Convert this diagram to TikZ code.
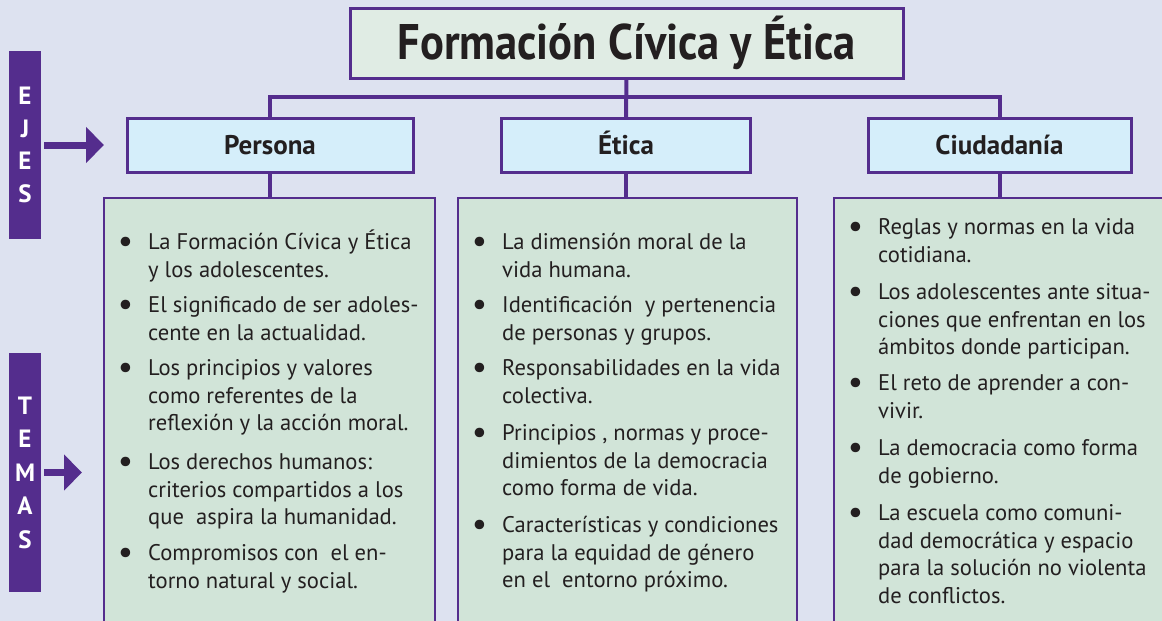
\documentclass[tikz,border=0pt]{standalone}
\usepackage{fontspec}
\setmainfont{PT Sans}
\newfontfamily\condfont[FakeStretch=0.89]{PT Sans}
\usetikzlibrary{arrows.meta}

\definecolor{morado}{RGB}{84,45,141}
\definecolor{fondo}{RGB}{221,226,240}
\definecolor{verdetitulo}{RGB}{224,236,228}
\definecolor{azuleje}{RGB}{213,238,250}
\definecolor{verdetema}{RGB}{209,228,216}
\definecolor{tinta}{RGB}{35,31,32}

\begin{document}
\begin{tikzpicture}
    [   x=1pt,y=-1pt,
        box/.style={draw=morado,line width=3pt,fill=#1,inner sep=0pt,outer sep=0pt},
        ejebox/.style={box=azuleje,minimum height=54pt,text height=22pt,text depth=4pt,text=tinta,font=\bfseries\fontsize{27}{27}\selectfont},
        temabox/.style={box=verdetema,line width=2.5pt,anchor=north west,minimum height=450pt},
        barra/.style={fill=morado,inner sep=0pt,outer sep=0pt,minimum width=32pt,text=white,align=center},
        link/.style={draw=morado,line width=4pt},
        flecha/.style={draw=morado,line width=7pt,-{Triangle[length=18pt,width=35pt]}},
        tema/.style={anchor=north west,inner sep=0pt,align=left,text=tinta,font=\fontsize{22.6}{27.6}\selectfont},
    ]
    \fill[fondo] (0,0) rectangle (1162,621);
    \useasboundingbox (0,0) rectangle (1162,621);

    % titulo y ejes
    \node[box=verdetitulo,minimum width=553pt,minimum height=70pt,text=tinta,
          font=\condfont\bfseries\fontsize{50}{50}\selectfont] (titulo) at (626.5,43) {Formación Cívica y Ética};
    \node[ejebox,minimum width=286pt] (persona) at (270,145) {Persona};
    \node[ejebox,minimum width=249pt] (etica) at (626,145) {Ética};
    \node[ejebox,minimum width=263pt] (ciudadania) at (999.5,145) {Ciudadanía};

    % cajas de temas
    \node[temabox,minimum width=331pt] (temaP) at (104,198) {};
    \node[temabox,minimum width=339pt] (temaE) at (458,198) {};
    \node[temabox,minimum width=340pt] (temaC) at (834,198) {};

    % barras laterales
    \node[barra,minimum height=188pt,font=\bfseries\fontsize{25}{32.5}\selectfont] (ejes) at (25,145) {E\\J\\E\\S};
    \node[barra,minimum height=239pt,font=\bfseries\fontsize{25}{33.5}\selectfont] (temas) at (25,472.5) {T\\E\\M\\A\\S};
    \draw[flecha] ([xshift=3pt]ejes.east) -- ([xshift=-23pt]persona.west);
    \draw[flecha] ([xshift=3pt]temas.east) -- ([xshift=-22pt]temas.east -| temaP.west);

    % conectores
    \draw[link] (titulo.south) -- (etica.north);
    \draw[link] (persona.north) -- ++(0,-21) -| (ciudadania.north);
    \foreach \a/\b in {persona/temaP,etica/temaE,ciudadania/temaC}
        \draw[link] (\a.south) -- (\b.north -| \a.south);

    % temas
    \foreach \y/\t [count=\i] in {
        242/{La Formación Cívica y Ética\\y los adolescentes.},
        305/{El significado de ser adoles-\\cente en la actualidad.},
        368/{Los principios y valores\\como referentes de la\\reflexión y la acción moral.},
        462/{Los derechos humanos:\\criterios compartidos a los\\que\ \ aspira la humanidad.},
        553/{Compromisos con\ \ el en-\\torno natural y social.}}
        \node[tema] (p-\i) at (148,\y-12) {\strut\llap{\raisebox{-2.5pt}{\scalebox{1.5}{\textbullet}}\hspace{15pt}}\t};
    \foreach \y/\t [count=\i] in {
        242/{La dimensión moral de la\\vida humana.},
        305/{Identificación\ \ y pertenencia\\de personas y grupos.},
        368/{Responsabilidades en la vida\\colectiva.},
        433/{Principios , normas y proce-\\dimientos de la democracia\\como forma de vida.},
        525/{Características y condiciones\\para la equidad de género\\en el\ \ entorno próximo.}}
        \node[tema] (e-\i) at (502,\y-12) {\strut\llap{\raisebox{-2.5pt}{\scalebox{1.5}{\textbullet}}\hspace{15pt}}\t};
    \foreach \y/\t [count=\i] in {
        227/{Reglas y normas en la vida\\cotidiana.},
        292/{Los adolescentes ante situa-\\ciones que enfrentan en los\\ámbitos donde participan.},
        383/{El reto de aprender a con-\\vivir.},
        448/{La democracia como forma\\de gobierno.},
        513/{La escuela como comuni-\\dad democrática y espacio\\para la solución no violenta\\de conflictos.}}
        \node[tema] (c-\i) at (878,\y-12) {\strut\llap{\raisebox{-2.5pt}{\scalebox{1.5}{\textbullet}}\hspace{15pt}}\t};
\end{tikzpicture}
\end{document}
